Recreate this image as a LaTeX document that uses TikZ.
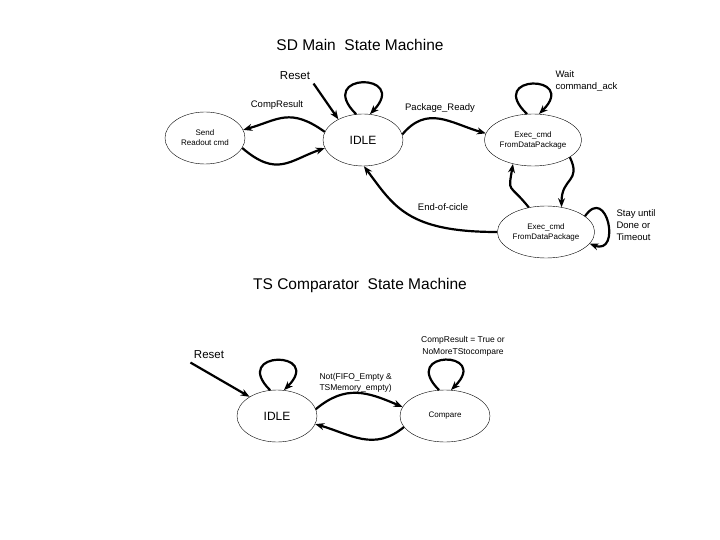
\documentclass[tikz,border=0pt]{standalone}
\usepackage{fontspec}
\setmainfont{Liberation Sans}
\usetikzlibrary{arrows.meta, positioning, shapes.geometric}

\begin{document}
\begin{tikzpicture}[x=1pt, y=-1pt,
  st/.style={draw, ellipse, thin, minimum width=80pt, minimum height=52pt, align=center, inner sep=1pt},
  smst/.style={st, font=\fontsize{8}{10}\selectfont},
  lbl/.style={font=\fontsize{9.5}{12}\selectfont, align=left},
  arr/.style={-{Stealth[length=9pt, width=7pt]}, line width=2.2pt}]
  \useasboundingbox (0,0) rectangle (720,540);
  % SD main state machine
  \node[font=\fontsize{15.5}{18}\selectfont] (title1) at (360,45) {SD Main\ \ State Machine};
  \node[smst] (send) at (205,138) {Send\\Readout cmd};
  \node[st, font=\fontsize{12}{14}\selectfont] (idle) at (363,140) {IDLE};
  \node[smst, minimum width=91pt] (exectop) at (533,140) {Exec\_cmd\\FromDataPackage};
  \node[smst, minimum width=87pt] (execbot) at (546,232) {Exec\_cmd\\FromDataPackage};
  \node[font=\fontsize{11.5}{14}\selectfont] (reset1) at (295,76) {Reset};
  \node[lbl] (comp1) at (277,105) {CompResult};
  \node[lbl] (pkg) at (440,108) {Package\_Ready};
  \node[lbl, anchor=west] (wait) at (552,81) {Wait\\command\_ack};
  \node[lbl] (eoc) at (443,207) {End-of-cicle};
  \node[lbl, anchor=west] (stay) at (613,225) {Stay until\\Done or\\Timeout};
  \draw[arr] (reset1.south east) -- (idle.140);
  \draw[arr] (idle.105) .. controls +(-42,-42) and +(40,-42) .. (idle.75);
  \draw[arr] (idle.168) .. controls +(-35,-25) and +(35,-10) .. (send.12);
  \draw[arr] (send.-15) .. controls +(35,30) and +(-35,12) .. (idle.192);
  \draw[arr] (idle.8) .. controls +(25,-30) and +(-35,-10) .. (exectop.172);
  \draw[arr] (exectop.103) .. controls +(-42,-40) and +(40,-40) .. (exectop.77);
  \draw[arr] (exectop.-25) .. controls +(12,25) and +(0,-30) .. (execbot.58);
  \draw[arr] (execbot.125) .. controls +(-20,-25) and +(-5,30) .. (exectop.-130);
  \draw[arr] (execbot.22) .. controls +(22,-32) and +(32,12) .. (execbot.-15);
  \draw[arr] (execbot.180) .. controls +(-90,0) and +(30,40) .. (idle.-88);
  % TS comparator state machine
  \node[font=\fontsize{15.5}{18}\selectfont] (title2) at (360,285) {TS Comparator\ \ State Machine};
  \node[st, font=\fontsize{12}{14}\selectfont] (idle2) at (277,416) {IDLE};
  \node[smst, minimum width=90pt] (cmp) at (445,416) {Compare};
  \node[font=\fontsize{11.5}{14}\selectfont] (reset2) at (209,355) {Reset};
  \node[lbl, align=center, font=\fontsize{8.5}{12}\selectfont] (crt) at (463,346) {CompResult = True or\\NoMoreTStocompare};
  \node[lbl, anchor=west, font=\fontsize{8.5}{11.5}\selectfont] (notff) at (316,383) {Not(FIFO\_Empty \&\\TSMemory\_empty)};
  \draw[arr] (reset2.south west) -- (idle2.145);
  \draw[arr] (idle2.105) .. controls +(-40,-40) and +(40,-40) .. (idle2.75);
  \draw[arr] (idle2.10) .. controls +(30,-25) and +(-35,-15) .. (cmp.168);
  \draw[arr] (cmp.-165) .. controls +(-30,25) and +(35,10) .. (idle2.-12);
  \draw[arr] (cmp.103) .. controls +(-40,-40) and +(40,-40) .. (cmp.77);
\end{tikzpicture}
\end{document}
